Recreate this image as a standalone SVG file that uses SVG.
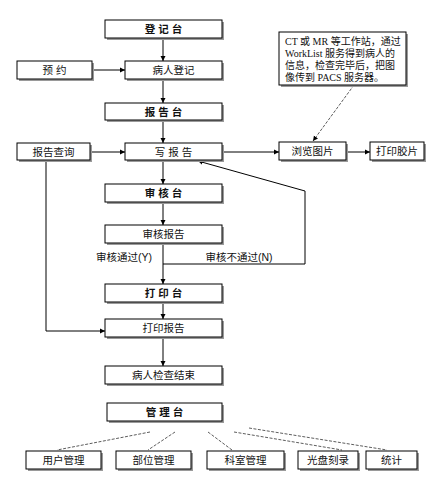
<svg xmlns="http://www.w3.org/2000/svg" width="428" height="482" viewBox="0 0 428 482">
<style>
.bx{fill:#fff;stroke:#000;stroke-width:1}
.sh{fill:#9a9a9a}
.t{font-family:"Liberation Sans","Noto Sans CJK SC",sans-serif;font-size:10.5px;fill:#111;text-anchor:middle;dominant-baseline:central}
.b{font-weight:bold}
.n{font-family:"Liberation Serif","Noto Sans CJK SC",serif;font-size:10px;fill:#111}
.c{fill:none;stroke:#000;stroke-width:1}
.d{fill:none;stroke:#333;stroke-width:0.8;stroke-dasharray:3 1.5}
</style>
<defs>
<marker id="ar" markerWidth="6" markerHeight="6" refX="5" refY="3" orient="auto" markerUnits="userSpaceOnUse">
<path d="M0,0.5 L5,3 L0,5.5 Z" fill="#000"/>
</marker>
</defs>
<rect width="428" height="482" fill="#fff"/>
<g id="connectors">
<path class="c" d="M163,38 V61" marker-end="url(#ar)"/>
<path class="c" d="M92,70 H125" marker-end="url(#ar)"/>
<path class="c" d="M163,79 V103" marker-end="url(#ar)"/>
<path class="c" d="M163,120 V143" marker-end="url(#ar)"/>
<path class="c" d="M90,152 H125" marker-end="url(#ar)"/>
<path class="c" d="M222,152 H279" marker-end="url(#ar)"/>
<path class="c" d="M346,152 H370" marker-end="url(#ar)"/>
<path class="d" d="M354,85 L313,141" marker-end="url(#ar)"/>
<path class="c" d="M163,160 V184" marker-end="url(#ar)"/>
<path class="c" d="M163,202 V225" marker-end="url(#ar)"/>
<path class="c" d="M163,243 V284" marker-end="url(#ar)"/>
<path class="c" d="M163,264 H305 V191 L198,161" marker-end="url(#ar)"/>
<path class="c" d="M163,302 V319" marker-end="url(#ar)"/>
<path class="c" d="M46,160 V331 H105" stroke="#666" marker-end="url(#ar)"/>
<path class="c" d="M163,337 V366" marker-end="url(#ar)"/>
<path class="d" d="M150,432 L57,450"/>
<path class="d" d="M175,432 L148,450"/>
<path class="d" d="M208,432 L232,450"/>
<path class="d" d="M234,432 L342,450"/>
<path class="d" d="M249,428 L387,450"/>
<text class="t" x="124" y="257">审核通过(Y)</text>
<text class="t" x="239" y="257">审核不通过(N)</text>
</g>
<g id="n-dengjitai"><rect class="sh" x="107" y="22" width="117" height="18"/><rect class="bx" x="105" y="20" width="117" height="18"/><text class="t b" x="163.5" y="29">登 记 台</text></g>
<g id="n-yuyue"><rect class="sh" x="19" y="63" width="75" height="18"/><rect class="bx" x="17" y="61" width="75" height="18"/><text class="t" x="54.5" y="70">预 约</text></g>
<g id="n-bingrendengji"><rect class="sh" x="127" y="63" width="97" height="18"/><rect class="bx" x="125" y="61" width="97" height="18"/><text class="t" x="173.5" y="70">病人登记</text></g>
<g id="n-baogaotai"><rect class="sh" x="107" y="105" width="117" height="17"/><rect class="bx" x="105" y="103" width="117" height="17"/><text class="t b" x="163.5" y="111.5">报 告 台</text></g>
<g id="n-baogaochaxun"><rect class="sh" x="19" y="145" width="73" height="17"/><rect class="bx" x="17" y="143" width="73" height="17"/><text class="t" x="53.5" y="151.5">报告查询</text></g>
<g id="n-xiebaogao"><rect class="sh" x="127" y="145" width="97" height="17"/><rect class="bx" x="125" y="143" width="97" height="17"/><text class="t" x="173.5" y="151.5">写 报 告</text></g>
<g id="n-liulantupian"><rect class="sh" x="281" y="144" width="67" height="18"/><rect class="bx" x="279" y="142" width="67" height="18"/><text class="t" x="312.5" y="151">浏览图片</text></g>
<g id="n-dayinjiaopian"><rect class="sh" x="372" y="144" width="54" height="18"/><rect class="bx" x="370" y="142" width="54" height="18"/><text class="t" x="397" y="151">打印胶片</text></g>
<g id="n-note"><rect class="sh" x="281" y="34" width="127" height="53"/><rect class="bx" x="279" y="32" width="127" height="53"/>
<text class="n" x="285" y="45">CT 或 MR 等工作站，通过</text>
<text class="n" x="285" y="57">WorkList 服务得到病人的</text>
<text class="n" x="285" y="69">信息，检查完毕后，把图</text>
<text class="n" x="285" y="81">像传到 PACS 服务器。</text></g>
<g id="n-shenhetai"><rect class="sh" x="107" y="186" width="117" height="18"/><rect class="bx" x="105" y="184" width="117" height="18"/><text class="t b" x="163.5" y="193">审 核 台</text></g>
<g id="n-shenhebaogao"><rect class="sh" x="107" y="227" width="117" height="18"/><rect class="bx" x="105" y="225" width="117" height="18"/><text class="t" x="163.5" y="234">审核报告</text></g>
<g id="n-dayintai"><rect class="sh" x="107" y="286" width="117" height="18"/><rect class="bx" x="105" y="284" width="117" height="18"/><text class="t b" x="163.5" y="293">打 印 台</text></g>
<g id="n-dayinbaogao"><rect class="sh" x="107" y="321" width="117" height="18"/><rect class="bx" x="105" y="319" width="117" height="18"/><text class="t" x="163.5" y="328">打印报告</text></g>
<g id="n-jieshu"><rect class="sh" x="107" y="368" width="117" height="18"/><rect class="bx" x="105" y="366" width="117" height="18"/><text class="t" x="163.5" y="375">病人检查结束</text></g>
<g id="n-guanlitai"><rect class="sh" x="109" y="405" width="115" height="18"/><rect class="bx" x="107" y="403" width="115" height="18"/><text class="t b" x="164.5" y="412">管 理 台</text></g>
<g id="n-yonghu"><rect class="sh" x="28" y="453" width="75" height="18"/><rect class="bx" x="26" y="451" width="75" height="18"/><text class="t" x="63.5" y="460">用户管理</text></g>
<g id="n-buwei"><rect class="sh" x="118" y="453" width="75" height="18"/><rect class="bx" x="116" y="451" width="75" height="18"/><text class="t" x="153.5" y="460">部位管理</text></g>
<g id="n-keshi"><rect class="sh" x="209" y="453" width="77" height="18"/><rect class="bx" x="207" y="451" width="77" height="18"/><text class="t" x="245.5" y="460">科室管理</text></g>
<g id="n-guangpan"><rect class="sh" x="300" y="453" width="60" height="18"/><rect class="bx" x="298" y="451" width="60" height="18"/><text class="t" x="328" y="460">光盘刻录</text></g>
<g id="n-tongji"><rect class="sh" x="368" y="453" width="51" height="18"/><rect class="bx" x="366" y="451" width="51" height="18"/><text class="t" x="391.5" y="460">统计</text></g>
</svg>
